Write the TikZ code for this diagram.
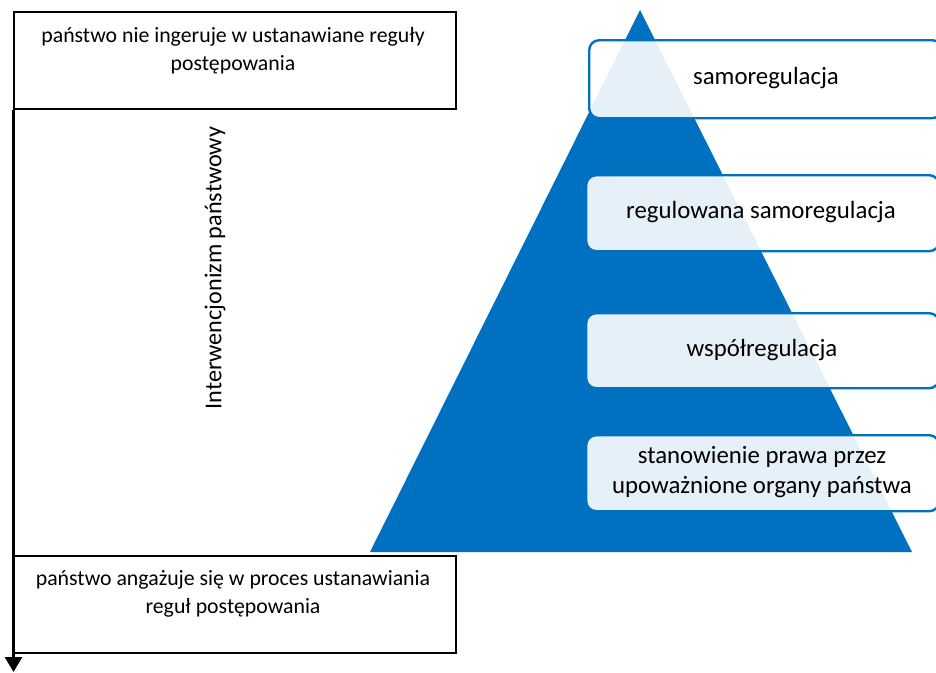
\documentclass[tikz,border=0pt]{standalone}
\usepackage{fontspec}
\setmainfont{Carlito}
\usetikzlibrary{arrows.meta,calc}
\definecolor{pyrblue}{HTML}{0070C0}
\tikzset{
  leftbox/.style={draw=black, line width=2.2pt, anchor=north west, minimum width=442pt, minimum height=97pt, inner sep=0pt},
  lefttext/.style={align=center, font=\fontsize{21.8}{28}\selectfont, anchor=north},
  levelbox/.style={draw=pyrblue, line width=2.4pt, rounded corners=10pt, fill=white, fill opacity=0.9, text opacity=1, anchor=north west, minimum width=353pt, inner sep=0pt},
  leveltext/.style={align=center, font=\fontsize{24.8}{30}\selectfont},
}
\begin{document}
\begin{tikzpicture}[x=1pt,y=-1pt]
\useasboundingbox (0,0) rectangle (936,672);
% pyramid
\fill[pyrblue] (640,10) -- (912,552) -- (370,552) -- cycle;
% level boxes
\node[levelbox, minimum height=78pt] (l1) at (588,39) {};
\node[leveltext] (t1) at (766,78) {samoregulacja};
\node[levelbox, minimum height=76pt] (l2) at (585,174) {};
\node[leveltext] (t2) at (761,212) {regulowana samoregulacja};
\node[levelbox, minimum height=75pt] (l3) at (585,312) {};
\node[leveltext] (t3) at (762,350) {współregulacja};
\node[levelbox, minimum height=76pt] (l4) at (585,434) {};
\node[leveltext] (t4) at (762,472) {stanowienie prawa przez\\upoważnione organy państwa};
% left boxes
\node[leftbox] (top) at (13,11) {};
\node[lefttext] (toptext) at (233,24) {państwo nie ingeruje w ustanawiane reguły\\postępowania};
\node[leftbox] (bot) at (13,555) {};
\node[lefttext] (bottext) at (233,567) {państwo angażuje się w proces ustanawiania\\reguł postępowania};
% axis
\coordinate (axend) at (13.5,672);
\draw[line width=2.8pt, -{Triangle[length=15pt,width=17pt]}] ([xshift=0.5pt]top.south west) -- (axend);
\node[rotate=90, font=\fontsize{24.2}{30}\selectfont] (axlabel) at (215,268) {Interwencjonizm państwowy};
\end{tikzpicture}
\end{document}
